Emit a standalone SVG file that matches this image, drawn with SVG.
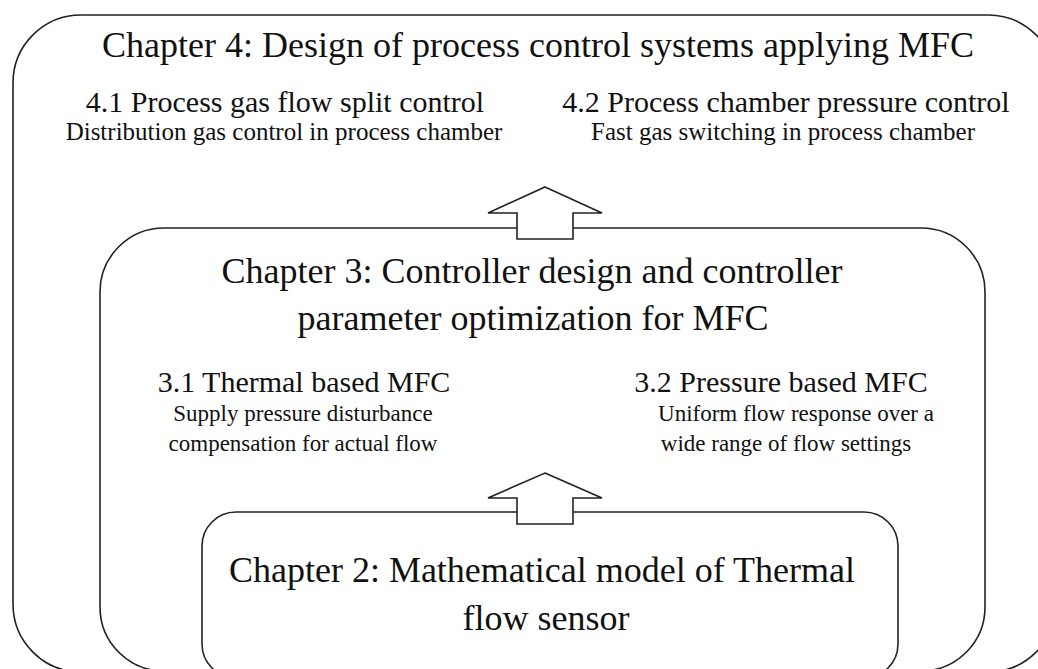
<svg xmlns="http://www.w3.org/2000/svg" width="1038" height="669" viewBox="0 0 1038 669">
  <style>
    .box { fill: none; stroke: #222; stroke-width: 1.6; }
    .arrow { fill: #fff; stroke: #222; stroke-width: 1.6; stroke-linejoin: miter; }
    text { font-family: "Liberation Serif", "Times New Roman", serif; fill: #111; text-anchor: middle; }
    .h1 { font-size: 36px; }
    .h2 { font-size: 30px; }
    .sub { font-size: 23px; }
    .sub-top { font-size: 25px; }
  </style>
  <rect width="1038" height="669" fill="#fff"/>

  <!-- Chapter 4: outer frame -->
  <g id="chapter4">
    <rect class="box" x="13" y="15" width="1043" height="657" rx="68" ry="68"/>
    <text class="h1" x="538" y="57">Chapter 4: Design of process control systems applying MFC</text>
    <text class="h2" x="285" y="112">4.1 Process gas flow split control</text>
    <text class="sub-top" x="284" y="140">Distribution gas control in process chamber</text>
    <text class="h2" x="786" y="112" font-size="30.5">4.2 Process chamber pressure control</text>
    <text class="sub-top" x="783" y="140">Fast gas switching in process chamber</text>
  </g>

  <!-- Chapter 3: middle frame -->
  <g id="chapter3">
    <rect class="box" x="100" y="228" width="885" height="443" rx="64" ry="64"/>
    <text class="h1" x="532" y="283">Chapter 3: Controller design and controller</text>
    <text class="h1" x="533" y="330">parameter optimization for MFC</text>
    <text class="h2" x="304" y="392">3.1 Thermal based MFC</text>
    <text class="sub" x="303" y="421">Supply pressure disturbance</text>
    <text class="sub" x="303" y="451">compensation for actual flow</text>
    <text class="h2" x="781" y="392">3.2 Pressure based MFC</text>
    <text class="sub" x="796" y="421" font-size="22">Uniform flow response over a</text>
    <text class="sub" x="786" y="451">wide range of flow settings</text>
  </g>

  <!-- Chapter 2: inner frame -->
  <g id="chapter2">
    <rect class="box" x="202" y="512" width="696" height="166" rx="34" ry="34"/>
    <text class="h1" x="542" y="582" font-size="35.6">Chapter 2: Mathematical model of Thermal</text>
    <text class="h1" x="546" y="630">flow sensor</text>
  </g>

  <!-- block arrows between chapters -->
  <g id="connectors">
    <polygon class="arrow" points="545,187 602,213 573,213 573,239 517,239 517,213 488,213"/>
    <polygon class="arrow" points="545,473 602,498 573,498 573,524 517,524 517,498 488,498"/>
  </g>
</svg>
